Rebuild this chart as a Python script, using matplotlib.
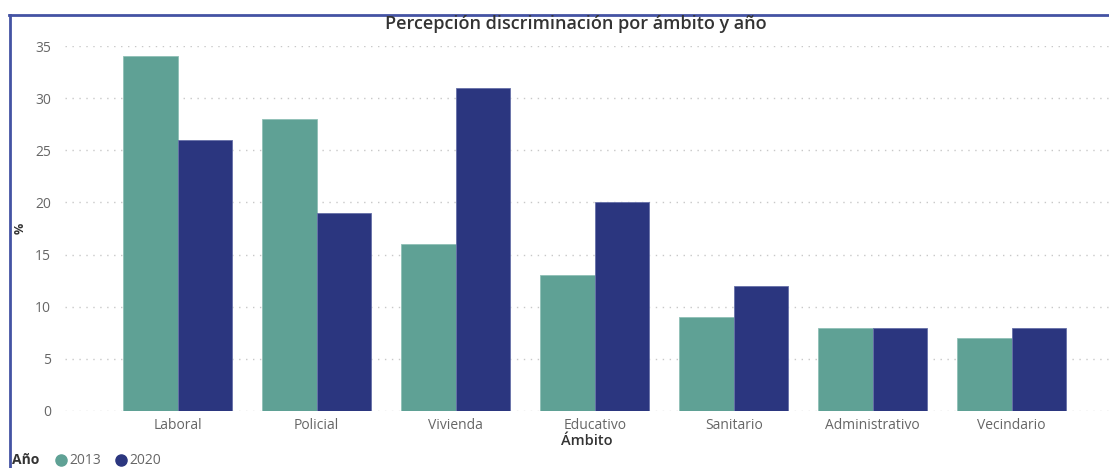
import matplotlib
matplotlib.use('Agg')
import matplotlib.pyplot as plt
import numpy as np
from matplotlib.lines import Line2D

categories = ["Laboral", "Policial", "Vivienda", "Educativo", "Sanitario",
              "Administrativo", "Vecindario"]
vals_2013 = [34, 28, 16, 13, 9, 8, 7]
vals_2020 = [26, 19, 31, 20, 12, 8, 8]
years = ["2013", "2020"]
colors = ["#5FA195", "#2B367F"]

plt.rcParams['font.family'] = ['Open Sans', 'DejaVu Sans']

fig = plt.figure(figsize=(11.09, 4.68), dpi=100)
ax = fig.add_axes([65 / 1109, 57 / 468, 1 - 65 / 1109, (411 - 46) / 468])

x = np.arange(len(categories))
w = 0.39
ax.bar(x - w / 2, vals_2013, width=w, color=colors[0], edgecolor="#8FC0B6",
       linewidth=0.6, zorder=3)
ax.bar(x + w / 2, vals_2020, width=w, color=colors[1], edgecolor="#6670A8",
       linewidth=0.6, zorder=3)

ax.set_xlim(-0.81, 6.70)
ax.set_ylim(0, 35)
ax.set_yticks(range(0, 36, 5))
ax.set_xticks(x)
ax.set_xticklabels(categories)
ax.grid(axis='y', color="#C8C8C8", linestyle=(0, (1, 4)), linewidth=1, zorder=0)
for s in ax.spines.values():
    s.set_visible(False)
ax.tick_params(length=0, labelsize=10, colors="#666666")
ax.tick_params(axis='y', pad=10)
ax.tick_params(axis='x', pad=5)

ax.set_xlabel("Ámbito", fontsize=10.5, color="#333333", fontweight='semibold',
              labelpad=1)
fig.text(20 / 1109, 1 - 228 / 468, "%", rotation=90, fontsize=9,
         color="#333333", ha='center', va='center', fontweight='bold')

fig.text(576 / 1109, 1 - 15 / 468, "Percepción discriminación por ámbito y año",
         fontsize=13, color="#333333", ha='center', va='top',
         fontweight='semibold')

# frame lines (top and left)
fig.add_artist(Line2D([9 / 1109, 1], [1 - 14.5 / 468, 1 - 14.5 / 468],
                      color="#4453A3", linewidth=2, transform=fig.transFigure))
fig.add_artist(Line2D([9.5 / 1109, 9.5 / 1109], [0, 1 - 14.5 / 468],
                      color="#4453A3", linewidth=2, transform=fig.transFigure))

# legend
ly = 1 - 460 / 468
fig.text(12 / 1109, ly, "Año", fontsize=10, fontweight='bold', color="#333333",
         ha='left', va='center')
fig.add_artist(Line2D([61 / 1109], [ly], marker='o', markersize=8,
                      color=colors[0], linestyle='none', transform=fig.transFigure))
fig.text(69 / 1109, ly, years[0], fontsize=10, color="#666666", ha='left', va='center')
fig.add_artist(Line2D([121 / 1109], [ly], marker='o', markersize=8,
                      color=colors[1], linestyle='none', transform=fig.transFigure))
fig.text(129 / 1109, ly, years[1], fontsize=10, color="#666666", ha='left', va='center')

fig.savefig("out.png", dpi=100)
